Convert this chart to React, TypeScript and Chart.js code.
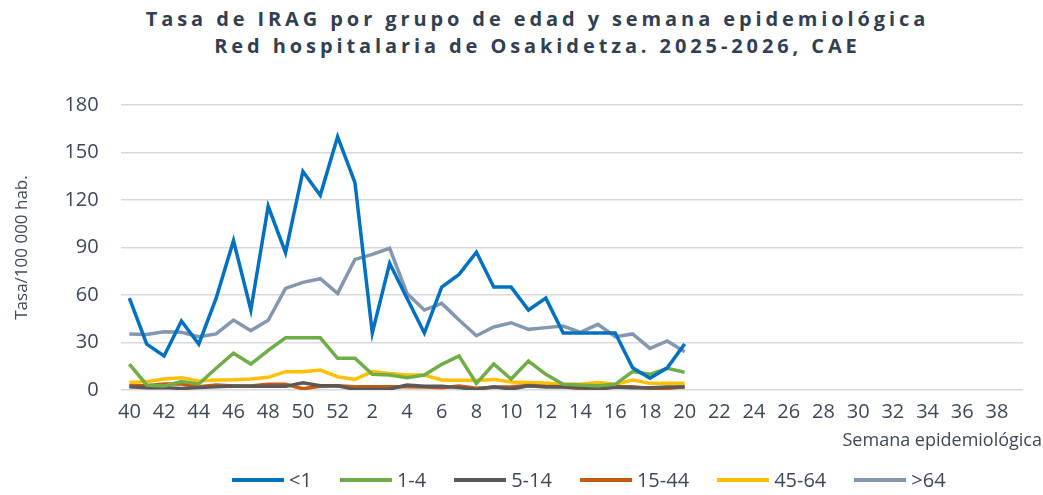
import React, { useEffect, useRef } from "react";
import { Chart, registerables } from "chart.js";

Chart.register(...registerables);

const weeks: string[] = [
  "40","41","42","43","44","45","46","47","48","49","50","51","52",
  "1","2","3","4","5","6","7","8","9","10","11","12","13","14","15","16","17","18","19","20",
  "21","22","23","24","25","26","27","28","29","30","31","32","33","34","35","36","37","38","39",
];

const seriesNames: string[] = ["<1", "1-4", "5-14", "15-44", "45-64", ">64"];
const seriesColors: string[] = ["#0070C0", "#70AD47", "#595959", "#C55A11", "#FFC000", "#8497B0"];

const menor1: number[] = [58, 29, 21.5, 43.6, 29, 58, 94.3, 50.5, 116, 86.7, 138, 123, 160, 131, 36, 80, 58, 36, 65, 73, 87, 65, 65, 50.5, 58, 36, 36, 36, 36, 14, 7.4, 14, 29];
const de1a4: number[] = [16.4, 3.2, 2.5, 5.3, 3.8, 13.7, 23.2, 16.4, 25, 33, 33, 33, 20, 20, 9.9, 9.5, 7.8, 9.5, 16.2, 21.5, 4.2, 16.4, 6.9, 18.3, 9.9, 3.6, 3.2, 2.7, 3.6, 11.6, 9.9, 13.7, 11.2];
const de5a14: number[] = [2.1, 1.5, 1.5, 1, 1.5, 2.1, 2.5, 2.3, 2.3, 2.3, 4.6, 2.7, 2.7, 0.4, 0.4, 0.6, 3.2, 2.3, 2.3, 1.5, 0.4, 2.1, 0.6, 2.7, 1.9, 1.9, 1.5, 0.4, 1.9, 1.5, 1.5, 1.9, 1.9];
const de15a44: number[] = [2.7, 2.7, 3.8, 3.8, 2.1, 3.2, 2.5, 2.5, 3.6, 3.6, 0.8, 2.3, 2.7, 2.1, 2.1, 2.1, 2.1, 1.9, 1.5, 2.5, 1.1, 1.7, 2.1, 2.9, 2.3, 2.1, 0.8, 1.7, 2.1, 2.1, 1, 1, 2.1];
const de45a64: number[] = [4.8, 5.3, 7, 7.8, 5.7, 6.3, 6.5, 7, 8, 11.6, 11.6, 12.6, 8.4, 6.7, 11.6, 10.5, 9.5, 9.5, 6.3, 6.1, 6, 6.7, 5, 4.8, 4.4, 3.6, 3.6, 4.8, 3.6, 6.3, 4.2, 4.2, 4.2];
const mayor64: number[] = [35.4, 35, 36.8, 36.4, 33.7, 35.4, 44.2, 37.5, 44, 64.2, 68, 70.3, 61, 82.5, 85.7, 89.5, 61, 50.5, 54.7, 44.2, 34.3, 39.8, 42.5, 38.3, 39.4, 40.4, 36.4, 41.5, 33.7, 35.4, 26.3, 31, 24.2];

const yTicks: number[] = [0, 30, 60, 90, 120, 150, 180];

const seriesData: number[][] = [menor1, de1a4, de5a14, de15a44, de45a64, mayor64];

const TEXT = "#3E4858";
const FONT = "'Open Sans', 'Noto Sans', sans-serif";

export default function App() {
  const ref = useRef<HTMLCanvasElement | null>(null);

  useEffect(() => {
    if (!ref.current) return;
    const pad = (arr: number[]) => weeks.map((_, i) => (i < arr.length ? arr[i] : null));
    const chart = new Chart(ref.current, {
      type: "line",
      data: {
        labels: weeks,
        datasets: seriesNames.map((name, i) => ({
          label: name,
          data: pad(seriesData[i]),
          borderColor: seriesColors[i],
          backgroundColor: seriesColors[i],
          borderWidth: 3.5,
          pointRadius: 0,
          tension: 0,
          fill: false,
          spanGaps: false,
        })),
      },
      options: {
        animation: false,
        responsive: false,
        maintainAspectRatio: false,
        layout: { padding: { top: 105, right: 20, bottom: 61, left: 4 } },
        plugins: {
          legend: { display: false },
          title: { display: false },
          tooltip: { enabled: false },
        },
        scales: {
          x: {
            offset: true,
            grid: { display: false, drawTicks: false },
            border: { display: false },
            ticks: {
              autoSkip: false,
              maxRotation: 0,
              minRotation: 0,
              padding: 10,
              color: TEXT,
              font: { family: FONT, size: 20 },
              callback: (_v: any, idx: number) => (idx % 2 === 0 ? weeks[idx] : ""),
            },
          },
          y: {
            min: 0,
            max: 180,
            afterBuildTicks: (axis: any) => {
              axis.ticks = yTicks.map((v) => ({ value: v }));
            },
            grid: { color: "#D9D9D9", lineWidth: 1.5, drawTicks: false },
            border: { display: false },
            ticks: {
              padding: 22,
              color: TEXT,
              font: { family: FONT, size: 20 },
            },
            title: {
              display: true,
              text: "Tasa/100 000 hab.",
              color: TEXT,
              font: { family: FONT, size: 17 },
              padding: { top: 8, bottom: 10 },
            },
          },
        },
      },
    });
    return () => chart.destroy();
  }, []);

  return (
    <div style={{ position: "fixed", left: 0, top: 0, width: 1043, height: 495, background: "#fff", fontFamily: FONT }}>
      <div
        style={{
          position: "absolute",
          left: 16,
          top: 5,
          width: 1043,
          textAlign: "center",
          fontWeight: 700,
          fontSize: 20,
          letterSpacing: "3.9px",
          lineHeight: "27px",
          color: "#333F50",
        }}
      >
        <div>Tasa de IRAG por grupo de edad y semana epidemiológica</div>
        <div>Red hospitalaria de Osakidetza. 2025-2026, CAE</div>
      </div>
      <canvas ref={ref} width={1043} height={495} style={{ position: "absolute", left: 0, top: 0 }} />
      <div
        style={{
          position: "absolute",
          right: 1,
          top: 427,
          fontSize: 18,
          lineHeight: "25px",
          color: TEXT,
          whiteSpace: "nowrap",
        }}
      >
        Semana epidemiológica
      </div>
      <div
        style={{
          position: "absolute",
          left: 232,
          top: 467,
          display: "flex",
          alignItems: "center",
          gap: 28,
          fontSize: 20,
          lineHeight: "26px",
          color: TEXT,
          whiteSpace: "nowrap",
        }}
      >
        {seriesNames.map((n, i) => (
          <div key={n} style={{ display: "flex", alignItems: "center" }}>
            <span style={{ display: "inline-block", width: 52, height: 4, background: seriesColors[i], marginRight: 5 }} />
            <span>{n}</span>
          </div>
        ))}
      </div>
    </div>
  );
}
